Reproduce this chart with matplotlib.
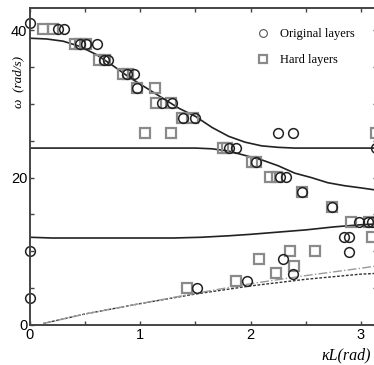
import matplotlib
matplotlib.use('Agg')
import matplotlib.pyplot as plt

# measured points, original layers (circles)
circ_k = [0, 0.25, 0.31, 0.45, 0.51, 0.61, 0.67, 0.71, 0.88, 0.94, 0.97, 1.20, 1.29,
          1.39, 1.50, 1.80, 1.87, 2.05, 2.27, 2.32, 2.25, 2.38, 3.14, 2.47, 2.74,
          2.98, 3.06, 3.10, 2.85, 2.89, 2.89, 2.29, 2.38, 1.97, 1.51, 0, 0]
circ_w = [40.9, 40.1, 40.1, 38.1, 38.1, 38.1, 36.0, 36.0, 34.0, 34.0, 32.1, 30.1, 30.1,
          28.1, 28.1, 24.0, 24.0, 22.1, 20.1, 20.1, 26.0, 26.0, 24.0, 18.0, 16.0,
          14.0, 14.0, 14.0, 11.9, 11.9, 9.9, 8.9, 6.9, 6.0, 5.0, 10.0, 3.7]

# measured points, hard layers (squares)
sq_k = [0.12, 0.21, 0.41, 0.45, 0.51, 0.63, 0.68, 0.84, 0.89, 0.97, 1.13, 1.14, 1.28,
        1.04, 1.28, 1.38, 1.48, 1.75, 1.79, 2.01, 2.05, 2.18, 2.24, 3.14, 2.47, 2.74,
        2.91, 3.07, 3.10, 2.58, 2.36, 2.08, 2.39, 2.23, 1.87, 1.42]
sq_w = [40.1, 40.1, 38.1, 38.1, 38.1, 36.0, 36.0, 34.0, 34.0, 32.1, 32.1, 30.1, 30.1,
        26.0, 26.0, 28.1, 28.1, 24.0, 24.0, 22.1, 22.1, 20.1, 20.1, 26.0, 18.0, 16.0,
        14.0, 14.0, 11.9, 10.0, 10.0, 8.9, 8.0, 7.0, 6.0, 5.0]

# theoretical branches
b1_k = [0, 0.15, 0.3, 0.45, 0.6, 0.75, 0.9, 1.05, 1.2, 1.35, 1.5, 1.65, 1.8, 1.95,
        2.1, 2.25, 2.4, 2.7, 3.14]
b1_w = [38.9, 38.8, 38.5, 37.8, 36.7, 35.2, 33.6, 32.2, 30.8, 29.4, 28.3, 26.8, 25.6,
        24.8, 24.3, 24.1, 24.0, 24.0, 24.0]

b2_k = [0, 0.5, 1.0, 1.5, 1.65, 1.8, 1.95, 2.1, 2.25, 2.4, 2.55, 2.7, 2.85, 3.0, 3.14]
b2_w = [24.0, 24.0, 24.0, 24.0, 23.9, 23.6, 23.0, 22.4, 21.6, 20.6, 20.0, 19.3, 18.9,
        18.6, 18.3]

b3_k = [0, 0.2, 0.5, 1.0, 1.3, 1.55, 1.8, 2.0, 2.25, 2.5, 2.75, 3.0, 3.14]
b3_w = [11.9, 11.8, 11.8, 11.8, 11.8, 11.9, 12.1, 12.3, 12.6, 12.9, 13.3, 13.6, 13.7]

ac_k = [0.12, 0.5, 1.0, 1.5, 2.0, 2.5, 3.0, 3.14]
ac1_w = [0.2, 1.5, 2.9, 4.2, 5.3, 6.2, 6.9, 7.0]
ac2_w = [0.2, 1.5, 2.9, 4.3, 5.6, 6.7, 7.7, 8.0]

fig = plt.figure(figsize=(3.74, 3.65), dpi=100)
ax = fig.add_axes([30/374, 40/365, 346.5/374, 317/365])

ax.plot(b1_k, b1_w, color='#222222', lw=1.2)
ax.plot(b2_k, b2_w, color='#222222', lw=1.2)
ax.plot(b3_k, b3_w, color='#222222', lw=1.2)
ax.plot(ac_k, ac1_w, color='#333333', lw=1.0, ls=(0, (2, 1.2)))
ax.plot(ac_k, ac2_w, color='#999999', lw=1.0, ls='-.')

ax.plot(sq_k, sq_w, 's', ms=6.8, mfc='none', mec='#8a8a8a', mew=1.6,
        label='Hard layers', clip_on=False)
ax.plot(circ_k, circ_w, 'o', ms=7, mfc='none', mec='#222222', mew=1.1,
        label='Original layers', clip_on=False)

ax.set_xlim(0, 3.1416)
ax.set_ylim(0, 43)
ax.set_xticks([0, 1, 2, 3])
ax.set_xticks([0.5, 1.5, 2.5], minor=True)
ax.set_yticks([0, 20, 40])
ax.set_yticks([5, 10, 15, 25, 30, 35], minor=True)
ax.tick_params(which='both', direction='in', top=True, right=True, length=3,
               width=1, color='#444444', labelsize=10.5, pad=2)
for lab in ax.get_xticklabels() + ax.get_yticklabels():
    lab.set_family('Liberation Sans')
for s in ax.spines.values():
    s.set_color('#444444')
    s.set_linewidth(1.4)

h, l = ax.get_legend_handles_labels()
leg = ax.legend(h[::-1], l[::-1], loc='upper left', bbox_to_anchor=(244/374, 1 - 17/365),
                bbox_transform=fig.transFigure, frameon=False, handlelength=1.2,
                handletextpad=0.8, labelspacing=1.1, markerscale=0.8,
                prop={'family': 'Liberation Serif', 'size': 9})
leg.legend_handles[0].set_markeredgecolor('#555555')
leg.legend_handles[0].set_markeredgewidth(0.8)

fig.text(18/374, 1 - 82/365, 'ω  (rad/s)', rotation=90, ha='center', va='center',
         family='Liberation Serif', style='italic', fontsize=9.5)
fig.text(346/374, 1 - 355/365, 'κL(rad)', ha='center', va='center',
         family='Liberation Serif', style='italic', fontsize=11.5)

fig.savefig('out.png', dpi=100)
